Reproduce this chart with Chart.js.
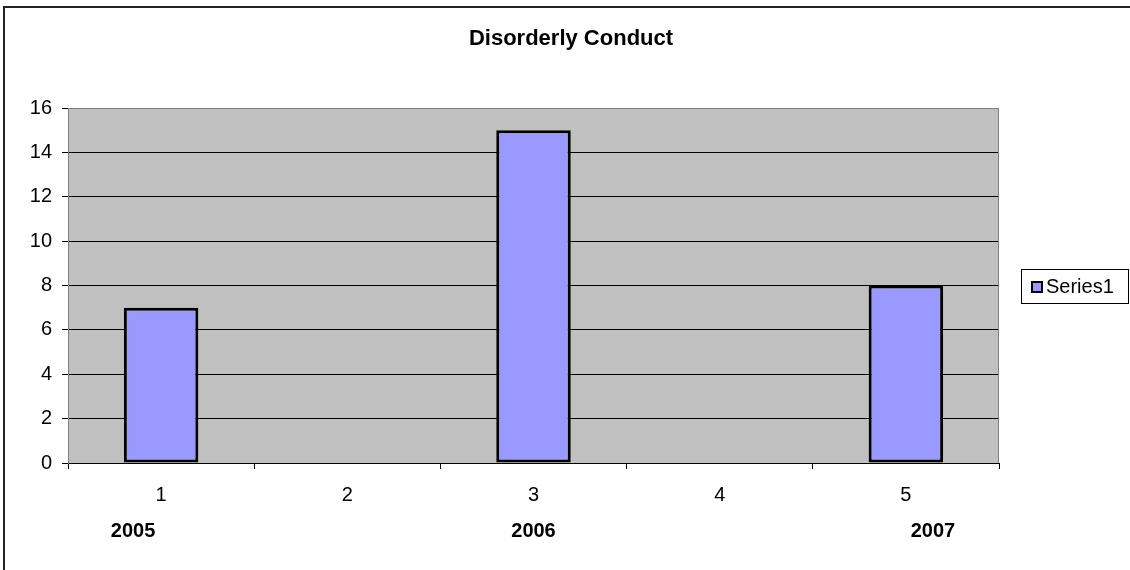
<!DOCTYPE html>
<html>
<head>
<meta charset="utf-8">
<script src="https://cdn.jsdelivr.net/npm/chart.js@4/dist/chart.umd.min.js"></script>
<style>
  html, body { margin:0; padding:0; background:#fff; }
  #wrap { width:1130px; height:570px; position:relative; }
</style>
</head>
<body>
<div id="wrap"><canvas id="chart" width="1130" height="570"></canvas></div>
<script>
// data
const chartTitle = 'Disorderly Conduct';
const categories = ['1', '2', '3', '4', '5'];
const series1 = [7, 0, 15, 0, 8];
const seriesName = 'Series1';
const yearLabels = ['2005', '2006', '2007'];
const yearCats = [0, 2, 4];   // category index each year sits under

const FONT = "'Liberation Sans', Arial, sans-serif";

// frame, plot background, title, legend, year row
const excelLook = {
  id: 'excelLook',
  beforeDraw(chart){
    const {ctx, chartArea:a} = chart;
    ctx.save();
    ctx.fillStyle = '#c0c0c0';
    ctx.fillRect(a.left, a.top, a.right - a.left, a.bottom - a.top);
    ctx.restore();
  },
  afterDraw(chart){
    const {ctx, chartArea:a} = chart;
    const x = chart.scales.x;
    ctx.save();
    // outer frame (only left + top visible)
    ctx.strokeStyle = '#222';
    ctx.lineWidth = 2;
    ctx.beginPath();
    ctx.moveTo(4, 570); ctx.lineTo(4, 7); ctx.lineTo(1130, 7);
    ctx.stroke();
    // plot border right side
    ctx.strokeStyle = '#808080';
    ctx.lineWidth = 1;
    ctx.beginPath();
    ctx.moveTo(a.right - 0.5, a.top); ctx.lineTo(a.right - 0.5, a.bottom);
    ctx.stroke();

    // title
    ctx.fillStyle = '#000';
    ctx.font = 'bold 22px ' + FONT;
    ctx.textAlign = 'center';
    ctx.textBaseline = 'middle';
    ctx.fillText(chartTitle, 571, 39);

    // year row under the category labels
    ctx.font = 'bold 20px ' + FONT;
    const shift = [-28, 0, 27];
    yearLabels.forEach((y, i) => {
      ctx.fillText(y, x.getPixelForValue(yearCats[i]) + shift[i], 531);
    });

    // legend
    const ds = chart.data.datasets[0];
    ctx.strokeStyle = '#000';
    ctx.lineWidth = 1;
    ctx.strokeRect(1021.5, 269.5, 107, 34);
    ctx.fillStyle = ds.backgroundColor;
    ctx.fillRect(1031, 281, 12, 12);
    ctx.lineWidth = 2;
    ctx.strokeRect(1032, 282, 10, 10);
    ctx.fillStyle = '#000';
    ctx.font = '20px ' + FONT;
    ctx.textAlign = 'left';
    ctx.fillText(ds.label, 1046, 287);
    ctx.restore();
  }
};

new Chart(document.getElementById('chart'), {
  type: 'bar',
  data: {
    labels: categories,
    datasets: [{
      label: seriesName,
      data: series1,
      backgroundColor: '#9999ff',
      borderColor: '#000',
      borderWidth: c => c.raw ? 3 : 0,
      borderSkipped: false,
      categoryPercentage: 1,
      barPercentage: 0.4
    }]
  },
  options: {
    responsive: false,
    animation: false,
    layout: { padding: { top: 108, right: 131, bottom: 0, left: 0 } },
    plugins: { legend:{display:false}, title:{display:false}, tooltip:{enabled:false} },
    scales: {
      x: {
        offset: true,
        grid: { offset:true, drawOnChartArea:false, drawTicks:true, tickLength:6, color:'#000', tickColor:'#000' },
        border: { display:true, color:'#000', width:1 },
        ticks: { color:'#000', font:{family:FONT, size:20}, padding:14, maxRotation:0 },
        afterFit: s => { s.height = 107; }
      },
      y: {
        min: 0, max: 16,
        grid: {
          color: c => c.tick.value === 16 ? '#808080' : '#000',
          tickColor: '#000', tickLength: 6, lineWidth: 1
        },
        border: { display:true, color:'#808080', width:1 },
        ticks: { stepSize:2, color:'#000', font:{family:FONT, size:20}, padding:10 },
        afterFit: s => { s.width = 68; }
      }
    }
  },
  plugins: [excelLook]
});
</script>
</body>
</html>
